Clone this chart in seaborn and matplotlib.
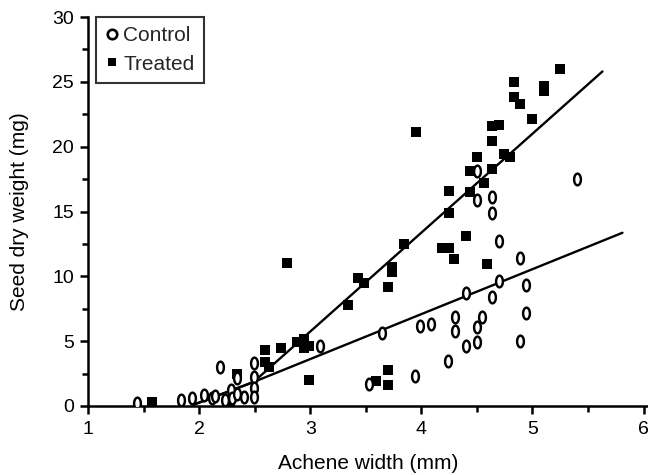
import numpy as np
import matplotlib
matplotlib.use('Agg')
import matplotlib.pyplot as plt
import seaborn as sns
from matplotlib.path import Path
from matplotlib.lines import Line2D
from matplotlib.ticker import MultipleLocator

# ---- data ----
control_x = [1.44, 1.84, 1.94, 2.04, 2.12, 2.14, 2.19, 2.23, 2.29, 2.30, 2.34, 2.34,
             2.40, 2.49, 2.49, 2.49, 2.49, 3.09, 3.53, 3.65, 3.94, 3.99, 4.09, 4.24,
             4.30, 4.30, 4.40, 4.40, 4.50, 4.50, 4.50, 4.50, 4.55, 4.64, 4.64, 4.64,
             4.70, 4.70, 4.89, 4.89, 4.94, 4.94, 5.40]
control_y = [0.25, 0.45, 0.65, 0.85, 0.60, 0.75, 3.00, 0.50, 1.25, 0.60, 2.15, 0.90,
             0.70, 3.30, 2.25, 1.40, 0.70, 4.65, 1.70, 5.60, 2.30, 6.20, 6.30, 3.50,
             6.85, 5.80, 8.75, 4.65, 18.1, 15.9, 6.10, 4.95, 6.85, 16.1, 14.9, 8.40,
             12.7, 9.65, 11.45, 5.05, 9.30, 7.20, 17.5]

treated_x = [1.58, 2.28, 2.34, 2.595, 2.595, 2.63, 2.74, 2.79, 2.88, 2.94, 2.94, 2.985,
             2.985, 3.34, 3.43, 3.48, 3.595, 3.70, 3.70, 3.70, 3.74, 3.74, 3.84, 3.95,
             4.19, 4.25, 4.25, 4.25, 4.29, 4.40, 4.44, 4.44, 4.50, 4.56, 4.59, 4.64,
             4.64, 4.64, 4.70, 4.74, 4.80, 4.835, 4.835, 4.89, 5.00, 5.10, 5.10, 5.245]
treated_y = [0.30, 0.30, 2.50, 4.30, 3.40, 3.00, 4.45, 11.0, 4.90, 5.20, 4.45, 4.60,
             2.00, 7.80, 9.90, 9.50, 1.90, 9.15, 2.80, 1.60, 10.7, 10.3, 12.5, 21.1,
             12.2, 12.2, 14.9, 16.6, 11.3, 13.1, 16.5, 18.1, 19.2, 17.2, 10.95, 18.3,
             20.4, 21.6, 21.7, 19.4, 19.2, 23.8, 25.0, 23.3, 22.1, 24.7, 24.3, 26.0]

control_fit_x = [1.95, 2.49, 5.81]
control_fit_y = [0.10, 1.85, 13.36]
treated_fit_x = [1.95, 2.49, 5.63]
treated_fit_y = [0.10, 1.85, 25.8]

x_ticks = [1, 2, 3, 4, 5, 6]
y_ticks = [0, 5, 10, 15, 20, 25, 30]
legend_labels = ['Control', 'Treated']

# ---- style ----
sns.set_style('ticks')
plt.rcParams['font.family'] = ['Liberation Sans', 'DejaVu Sans']

fig = plt.figure(figsize=(6.48, 4.75), dpi=100)
ax = fig.add_axes([88 / 648, 69 / 475, 560 / 648, 389 / 475])

theta = np.linspace(0, 2 * np.pi, 73)
ellipse = Path(np.column_stack([0.58 * np.cos(theta), np.sin(theta)]), closed=True)

sns.lineplot(x=treated_fit_x, y=treated_fit_y, sort=False, estimator=None,
             color='black', linewidth=1.7, ax=ax, zorder=2)
sns.lineplot(x=control_fit_x, y=control_fit_y, sort=False, estimator=None,
             color='black', linewidth=1.7, ax=ax, zorder=2)
sns.scatterplot(x=treated_x, y=treated_y, marker='s', s=6.6 ** 2, color='black',
                edgecolor='black', linewidth=0, ax=ax, zorder=3)
sns.scatterplot(x=control_x, y=control_y, marker=ellipse, s=8.4 ** 2, color='white',
                edgecolor='black', linewidth=1.75, ax=ax, zorder=4)

ax.set_xlim(1, 6.04)
ax.set_ylim(0, 30)
ax.set_xticks(x_ticks)
ax.set_yticks(y_ticks)
ax.xaxis.set_minor_locator(MultipleLocator(0.5))
ax.yaxis.set_minor_locator(MultipleLocator(2.5))
ax.tick_params(which='major', length=6, width=1.8, labelsize=14, color='black',
               labelcolor='black', pad=4)
ax.tick_params(which='minor', length=4, width=1.8, color='black')
ax.tick_params(axis='x', which='major', pad=5)
for s in ['left', 'bottom']:
    ax.spines[s].set_linewidth(1.8)
    ax.spines[s].set_color('black')
sns.despine(ax=ax)

ax.set_xlabel('Achene width (mm)', fontsize=15, labelpad=11, color='black')
ax.set_ylabel('Seed dry weight (mg)', fontsize=15, labelpad=17, color='black')

handles = [
    Line2D([], [], linestyle='none', marker='o', markersize=6.8, markerfacecolor='white',
           markeredgecolor='black', markeredgewidth=1.9),
    Line2D([], [], linestyle='none', marker='s', markersize=6.2, markerfacecolor='black',
           markeredgecolor='black', markeredgewidth=0),
]
leg = ax.legend(handles, legend_labels, loc='upper left',
                bbox_to_anchor=(96 / 648, 458 / 475), bbox_transform=fig.transFigure,
                borderaxespad=0, frameon=True, fancybox=False, fontsize=15,
                handlelength=0.6, handletextpad=0.25, borderpad=0.45, labelspacing=0.45)
leg.get_frame().set_edgecolor('black')
leg.get_frame().set_linewidth(1.5)

fig.savefig('out.png', dpi=100)
